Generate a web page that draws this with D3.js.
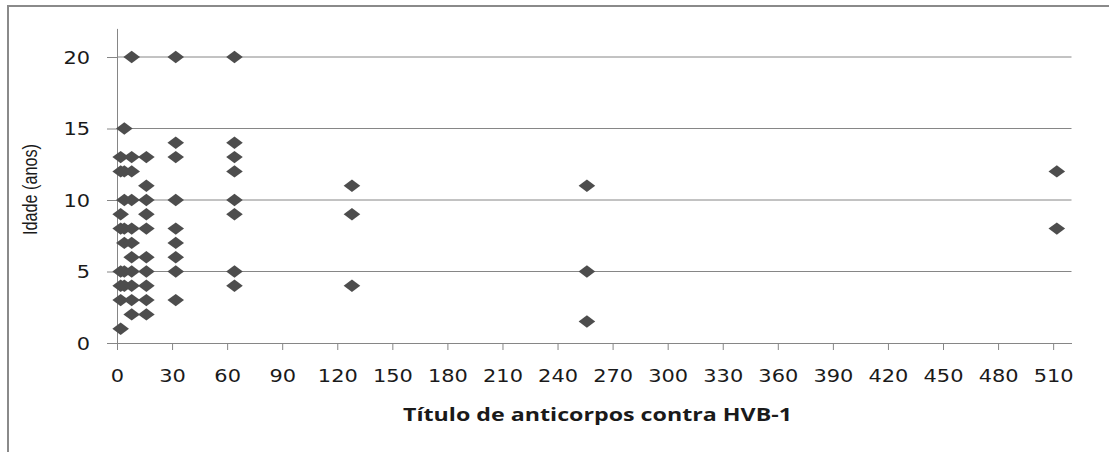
<!DOCTYPE html>
<html>
<head>
<meta charset="utf-8">
<title>Idade x Título de anticorpos</title>
<script src="https://d3js.org/d3.v7.min.js"></script>
<style>
body { margin: 0; background: #fff; }
.tick text { font-family: "DejaVu Sans", Verdana, sans-serif; font-size: 17px; fill: #1a1a1a; }
.axis path, .axis line { stroke: #868686; }
</style>
</head>
<body>
<svg class="chart"></svg>
<script>
// data: antibody titre (x) and age in years (y), one entry per animal
var titulo = [8, 32, 64,
  4,
  32, 64,
  2, 8, 16, 32, 64,
  2, 4, 8, 64, 512,
  16, 128, 256,
  4, 8, 16, 32, 64,
  2, 16, 64, 128,
  2, 4, 8, 16, 32, 512,
  4, 8, 32,
  8, 16, 32,
  2, 4, 8, 16, 32, 64, 256,
  2, 4, 8, 16, 64, 128,
  2, 8, 16, 32,
  8, 16,
  2,
  256];
var idade = [20, 20, 20,
  15,
  14, 14,
  13, 13, 13, 13, 13,
  12, 12, 12, 12, 12,
  11, 11, 11,
  10, 10, 10, 10, 10,
  9, 9, 9, 9,
  8, 8, 8, 8, 8, 8,
  7, 7, 7,
  6, 6, 6,
  5, 5, 5, 5, 5, 5, 5,
  4, 4, 4, 4, 4, 4,
  3, 3, 3, 3,
  2, 2,
  1,
  1.5];
var xTicks = d3.range(0, 511, 30);
var yTicks = [0, 5, 10, 15, 20];

var width = 1109, height = 452;
var svg = d3.select(".chart").attr("width", width).attr("height", height);

// outer frame (only top and left edges are visible)
svg.append("path")
  .attr("d", "M8," + height + "V6H" + width)
  .attr("fill", "none")
  .attr("stroke", "#8a8a8a")
  .attr("stroke-width", 2);

var x = d3.scaleLinear().domain([0, 520]).range([117, 1071.5]);
var y = d3.scaleLinear().domain([0, 22]).range([343, 28.4]);

// gridlines
svg.append("g").selectAll("line")
  .data(yTicks.slice(1))
  .enter().append("line")
  .attr("x1", x(0)).attr("x2", x(520))
  .attr("y1", function(d){ return y(d); })
  .attr("y2", function(d){ return y(d); })
  .attr("stroke", "#868686");

//bottom axis
var gx = svg.append("g")
  .attr("class", "axis")
  .attr("transform", "translate(0," + y(0) + ")")
  .call(d3.axisBottom(x).tickValues(xTicks).tickSize(7).tickSizeOuter(0));
gx.selectAll("text")
  .attr("y", 38.7)
  .attr("dy", 0)
  .attr("textLength", function(d){ return String(d).length * 13.3; })
  .attr("lengthAdjust", "spacingAndGlyphs");

//left axis
var gy = svg.append("g")
  .attr("class", "axis")
  .attr("transform", "translate(" + x(0) + ",0)")
  .call(d3.axisLeft(y).tickValues(yTicks).tickSize(10).tickSizeOuter(0));
gy.selectAll("text")
  .attr("x", -27)
  .attr("y", 6.3)
  .attr("dy", 0)
  .attr("textLength", function(d){ return String(d).length * 13.3; })
  .attr("lengthAdjust", "spacingAndGlyphs");

// diamond markers
var hw = 8.3, hh = 6.2;
svg.append("g").selectAll("path")
  .data(titulo.map(function(t, i){ return {t: t, a: idade[i]}; }))
  .enter().append("path")
  .attr("transform", function(d){ return "translate(" + x(d.t) + "," + y(d.a) + ")"; })
  .attr("d", "M" + (-hw) + ",0L0," + (-hh) + "L" + hw + ",0L0," + hh + "Z")
  .attr("fill", "#4d4d4d");

//labels
svg.append("text")
  .attr("transform", "translate(37,189.5) rotate(-90)")
  .attr("text-anchor", "middle")
  .attr("textLength", 91)
  .attr("lengthAdjust", "spacingAndGlyphs")
  .attr("font-family", "'Liberation Sans', Arial, sans-serif")
  .attr("font-size", 21)
  .attr("fill", "#1a1a1a")
  .text("Idade (anos)");

svg.append("text")
  .attr("x", 597.5)
  .attr("y", 421)
  .attr("text-anchor", "middle")
  .attr("textLength", 389)
  .attr("lengthAdjust", "spacingAndGlyphs")
  .attr("font-family", "'Open Sans', 'Liberation Sans', sans-serif")
  .attr("font-weight", "bold")
  .attr("font-size", 17)
  .attr("fill", "#1a1a1a")
  .text("Título de anticorpos contra HVB-1");
</script>
</body>
</html>
